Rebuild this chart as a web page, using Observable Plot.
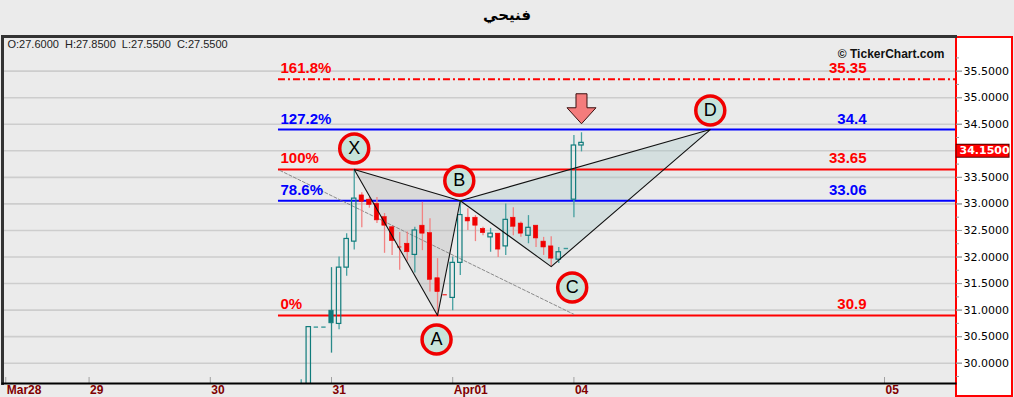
<!DOCTYPE html>
<html><head><meta charset="utf-8">
<script src="https://cdn.jsdelivr.net/npm/d3@7"></script>
<script src="https://cdn.jsdelivr.net/npm/@observablehq/plot@0.6"></script>
<style>
html,body{margin:0;padding:0;background:#ebebeb;width:1014px;height:397px;overflow:hidden}
#title{height:34px;line-height:34px;text-align:center;font:bold 15px "DejaVu Sans",sans-serif;color:#000}
#title span{position:relative;top:6px}
#wrap{position:relative;width:1014px;height:363px}
#panel{position:absolute;left:955px;top:2px;width:58px;height:361px;box-sizing:border-box;border:2px solid #ff0000;background:#fff}
#wrap svg{position:absolute;left:0;top:0}
</style></head>
<body>
<div id="title"><span>فنيحي</span></div>
<div id="wrap"><div id="panel"></div></div>
<script>
// ---- candle data (bar index: 16 bars per day, 0 = first bar of Mar 31) ----
const candleIdx = [-4,-3,-2,-1,0,1,2,3,4,5,6,7,8,9,10,11,12,13,14,15,16,17,18,19,20,21,22,23,24,25,26,27,28,29,30,31,32,33];
const openP  = [29.30,29.40,30.68,30.68,30.99,30.74,31.80,32.29,33.16,33.08,33.00,32.75,32.56,32.19,32.25,32.04,32.59,32.45,31.60,31.29,31.23,31.89,32.74,32.74,32.53,32.37,32.44,32.20,32.74,32.63,32.40,32.59,32.29,32.20,31.95,32.16,33.08,34.10];
const highP  = [29.69,30.68,30.68,30.68,31.80,32.00,32.44,33.65,33.21,33.12,33.12,32.82,32.58,32.46,32.47,32.56,33.03,32.72,31.97,31.29,32.00,33.06,32.91,32.78,32.56,32.54,32.44,33.00,32.93,32.66,32.78,32.59,32.37,32.38,32.18,32.16,34.29,34.34];
const lowP   = [29.20,29.30,30.68,30.68,30.19,30.63,31.64,32.13,32.55,32.92,32.63,32.07,32.03,31.75,31.92,31.70,32.12,31.34,30.90,31.29,30.99,31.65,32.50,32.29,32.40,32.09,31.99,32.03,32.40,32.37,32.25,32.18,32.03,31.82,31.88,32.16,32.74,33.98];
const closeP = [29.45,30.68,30.68,30.68,30.75,31.80,32.34,33.10,33.04,32.98,32.69,32.59,32.30,32.19,32.09,32.50,32.44,31.57,31.34,31.29,31.89,32.79,32.67,32.59,32.45,32.44,32.14,32.70,32.57,32.44,32.55,32.35,32.18,31.97,32.09,32.16,34.10,34.15];

// ---- harmonic pattern points ----
const patLabels = ["X","A","B","C","D"];
const patIdx    = [3, 14, 17, 29, 50];
const patPrice  = [33.65, 30.90, 33.06, 31.82, 34.40];

// ---- fibonacci levels ----
const fibPct   = ["161.8%","127.2%","100%","78.6%","0%"];
const fibPrice = [35.35, 34.4, 33.65, 33.06, 30.9];
const fibStartIdx = -7;

// ---- dashed trend line ----
const trendIdx   = [-6.8, 32];
const trendPrice = [33.63, 30.92];

// ---- axes ----
const dayIdx    = [-43, -32, -16, 0, 16, 32, 73];
const dayLabels = ["Mar28","29","30","31","Apr01","04","05"];
const gridVals  = [30,30.5,31,31.5,32,32.5,33,33.5,34,34.5,35,35.5];
const yLabelVals= [30,30.5,31,31.5,32,32.5,33,33.5,34.5,35,35.5];
const yMinor    = [29.75,30.25,30.75,31.25,31.75,32.25,32.75,33.25,33.75,34.25,34.75,35.25,35.75];
const ohlcText  = "O:27.6000\u00a0\u00a0H:27.8500\u00a0\u00a0L:27.5500\u00a0\u00a0C:27.5500";

// ---- build ----
const candles = candleIdx.map((i,k)=>({i,o:openP[k],h:highP[k],l:lowP[k],c:closeP[k],prev:k>0?closeP[k-1]:openP[k]}));
const kind = d => (d.c > d.o || (d.c === d.o && d.c >= d.prev)) ? "up" : (d.c < d.o && d.c > d.prev) ? "upFilled" : "down";
candles.forEach(d => d.kind = kind(d));
const bodies = candles.filter(d => d.o !== d.c);
const flats = candles.filter(d => d.o === d.c);
const pts = patLabels.map((n,k)=>({n,i:patIdx[k],p:patPrice[k]}));
const P = Object.fromEntries(pts.map(d=>[d.n,d]));
const triXAB = [P.X,P.A,P.B,P.X];
const triBCD = [P.B,P.C,P.D,P.B];
const fibs = fibPct.map((t,k)=>({t,p:fibPrice[k]}));
const blueLevels = new Set(["127.2%","78.6%"]);
const fibColor = d => blueLevels.has(d.t) ? "#0000ff" : "#ff0000";
const trend = trendIdx.map((i,k)=>({i,p:trendPrice[k]}));
const last = candles[candles.length-1];

const xDom = [-43.43, 82.37];
const yDom = [29.618, 36.153];
const HALF = 0.29;
const wickCol = {up:"#46a0a0", upFilled:"#2a8a8a", down:"#f28282"};
const teal = "#0f7b7b", red = "#f00000";
const F = "Liberation Sans";

const marks = [
  Plot.ruleY(gridVals, {stroke:"#cdcdcd", strokeWidth:1.6}),
  // pattern fills
  Plot.line(triXAB, {x:"i", y:"p", fill:"#b8b8b8", fillOpacity:0.35, stroke:"none"}),
  Plot.line(triBCD, {x:"i", y:"p", fill:"#a9c9c9", fillOpacity:0.35, stroke:"none"}),
  // fib lines
  Plot.ruleY(fibs.filter(d=>d.t!=="161.8%"), {y:"p", x1:()=>fibStartIdx, x2:()=>xDom[1], stroke:fibColor, strokeWidth:2}),
  Plot.ruleY(fibs.filter(d=>d.t==="161.8%"), {y:"p", x1:()=>fibStartIdx, x2:()=>xDom[1], stroke:"#ff0000", strokeWidth:2, strokeDasharray:"7,3,2,3"}),
  // trend
  Plot.line(trend, {x:"i", y:"p", stroke:"#8a8a8a", strokeWidth:1, strokeDasharray:"3,2"}),
];
// candles by kind
for (const k of ["up","upFilled","down"]) {
  const cs = candles.filter(d=>d.kind===k);
  marks.push(Plot.ruleX(cs, {x:"i", y1:d=>Math.max(d.o,d.c), y2:"h", stroke:wickCol[k], strokeWidth:1.3, clip:true}));
  marks.push(Plot.ruleX(cs, {x:"i", y1:"l", y2:d=>Math.min(d.o,d.c), stroke:wickCol[k], strokeWidth:1.3, clip:true}));
  const bs = bodies.filter(d=>d.kind===k);
  marks.push(Plot.rect(bs, {x1:d=>d.i-HALF, x2:d=>d.i+HALF, y1:d=>Math.min(d.o,d.c), y2:d=>Math.max(d.o,d.c),
    fill: k==="up" ? "none" : (k==="down" ? red : teal), stroke: k==="down" ? red : teal, strokeWidth: k==="up"?1.2:0.6, clip:true}));
  const fs = flats.filter(d=>d.kind===k);
  marks.push(Plot.ruleY(fs, {y:"o", x1:d=>d.i-HALF, x2:d=>d.i+HALF, stroke: k==="down" ? "#f04040" : "#3b9a9a", strokeWidth:1.4, clip:true}));
}
marks.push(
  Plot.line(triXAB, {x:"i", y:"p", stroke:"#111", strokeWidth:1.1}),
  Plot.line(triBCD, {x:"i", y:"p", stroke:"#111", strokeWidth:1.1}),
  // fib labels
  Plot.text(fibs, {x:()=>fibStartIdx, y:"p", text:"t", textAnchor:"start", lineAnchor:"bottom", dx:2, dy:-6, fill:fibColor, fontWeight:"bold", fontSize:15, fontFamily:F}),
  Plot.text(fibs, {y:"p", frameAnchor:"right", text:d=>String(d.p), textAnchor:"end", lineAnchor:"bottom", dx:-89, dy:-6, fill:fibColor, fontWeight:"bold", fontSize:15, fontFamily:F})
);
// pattern point labels
const labelOff = {X:[0,-21], A:[-1,24], B:[-1,-20], C:[21,21], D:[0,-19]};
for (const d of pts) {
  const [dx,dy] = labelOff[d.n];
  marks.push(Plot.dot([d], {x:"i", y:"p", dx, dy, r:14.5, fill:"#c8e4da", stroke:"#f00000", strokeWidth:3.5}));
  marks.push(Plot.text([d], {x:"i", y:"p", dx, dy, text:"n", fontSize:18, fontFamily:F, fill:"#000", lineAnchor:"middle"}));
}
// arrow above last bar
const arrowSymbol = {draw(ctx){ctx.moveTo(-5.5,-15);ctx.lineTo(5.5,-15);ctx.lineTo(5.5,-1);ctx.lineTo(14.5,-1);ctx.lineTo(0,15);ctx.lineTo(-14.5,-1);ctx.lineTo(-5.5,-1);ctx.closePath();}};
marks.push(Plot.dot([last], {x:"i", y:"h", dy:-24, symbol:arrowSymbol, r:5, fill:"#f47c7c", stroke:"#3a1010", strokeWidth:1}));
// header texts
marks.push(
  Plot.text([ohlcText], {frameAnchor:"top-left", dx:5, dy:8, textAnchor:"start", lineAnchor:"middle", fontSize:11, fontFamily:F, fill:"#222"}),
  Plot.text(["© TickerChart.com"], {frameAnchor:"top-right", dx:-11, dy:18, textAnchor:"end", lineAnchor:"middle", fontWeight:"bold", fontSize:12, fontFamily:F, fill:"#111"})
);
// frames & axes
marks.push(
  Plot.ruleX(dayIdx, {insetTop:341, stroke:"#a0a0a0", strokeWidth:1}),
  Plot.frame({anchor:"top", stroke:"#333", strokeWidth:3}),
  Plot.frame({anchor:"left", stroke:"#333", strokeWidth:3}),
  Plot.frame({anchor:"bottom", stroke:"#000", strokeWidth:2}),
  Plot.axisX(dayIdx, {anchor:"bottom", tickSize:0, tickPadding:2, tickFormat:d=>dayLabels[dayIdx.indexOf(d)], textAnchor:"start", dx:1, fill:"#800000", fontWeight:"bold", fontSize:12, fontFamily:F, label:null}),
  Plot.axisY(yMinor, {anchor:"right", tickSize:3, tickFormat:()=>"", stroke:"#999", label:null}),
  Plot.axisY(gridVals, {anchor:"right", tickSize:6, tickFormat:()=>"", stroke:"#999", label:null}),
  Plot.axisY(yLabelVals, {anchor:"right", tickSize:6, tickPadding:2, tickFormat:d3.format(".4f"), stroke:"#999", fill:"#000", fontSize:11, fontFamily:"DejaVu Sans", label:null}),
  // current price box
  Plot.ruleY([last], {y:"c", x1:()=>xDom[1]+0.1, x2:()=>xDom[1]+7.2, dy:8, stroke:"#500", strokeWidth:14}),
  Plot.ruleY([last], {y:"c", x1:()=>xDom[1]+0.2, x2:()=>xDom[1]+7.05, dy:8, stroke:"#ff0000", strokeWidth:12}),
  Plot.text([last], {x:()=>xDom[1], y:"c", dx:4, dy:8, text:d=>d3.format(".4f")(d.c), textAnchor:"start", lineAnchor:"middle", fill:"#fff", fontWeight:"bold", fontSize:11, fontFamily:"DejaVu Sans"})
);

const chart = Plot.plot({
  width:1014, height:363,
  marginTop:2, marginBottom:14, marginLeft:2, marginRight:59,
  x:{type:"linear", domain:xDom, axis:null},
  y:{type:"linear", domain:yDom, axis:null},
  style:{background:"transparent", fontFamily:"DejaVu Sans", overflow:"visible"},
  marks
});
document.getElementById("wrap").appendChild(chart);
</script>
</body></html>
